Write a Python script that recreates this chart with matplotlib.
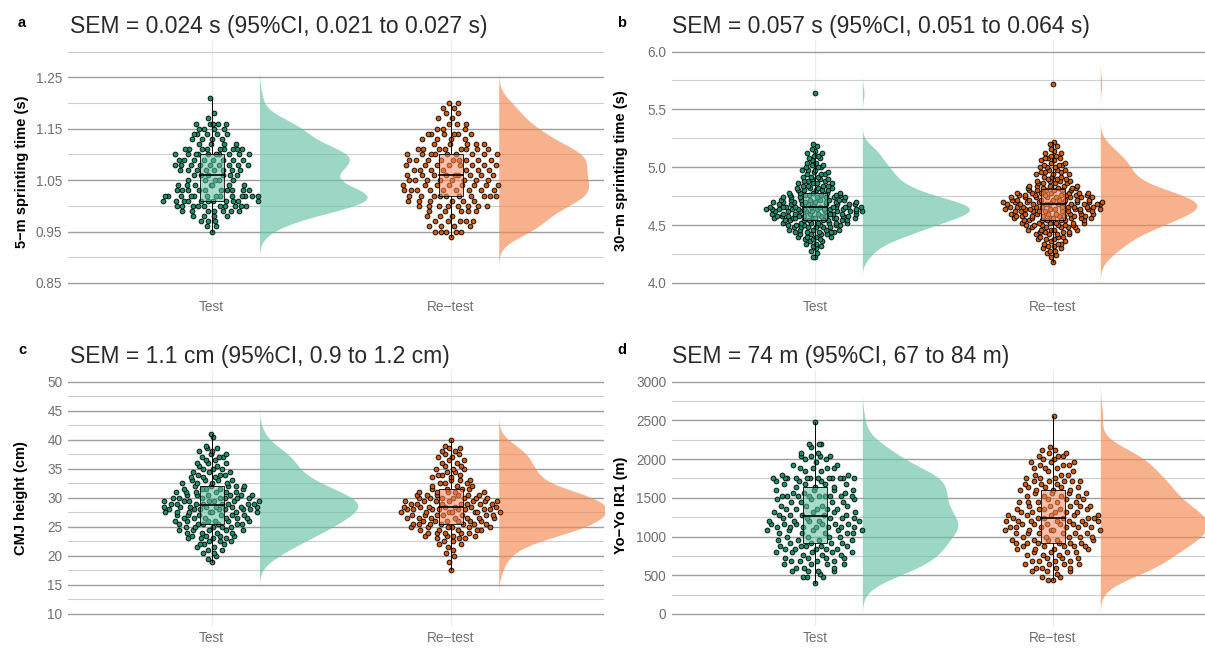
import matplotlib.pyplot as plt
import numpy as np
from matplotlib.patches import Rectangle

plt.rcParams['font.family'] = ['Liberation Sans', 'DejaVu Sans']

groups = ['Test', 'Re\u2212test']
violin_colors = ['#66c2a5', '#f4874f']
box_colors = ['#66c2a5', '#fc8d62']
point_colors = ['#1a8f6b', '#d05a05']

tags = ['a', 'b', 'c', 'd']
titles = ['SEM = 0.024 s (95%CI, 0.021 to 0.027 s)',
          'SEM = 0.057 s (95%CI, 0.051 to 0.064 s)',
          'SEM = 1.1 cm (95%CI, 0.9 to 1.2 cm)',
          'SEM = 74 m (95%CI, 67 to 84 m)']
ylabels = ['5\u2212m sprinting time (s)', '30\u2212m sprinting time (s)',
           'CMJ height (cm)', 'Yo\u2212Yo IR1 (m)']

# --- a: 5-m sprint (s), values read at 0.01 s resolution
sprint5_levels = [0.94, 0.95, 0.96, 0.97, 0.98, 0.99, 1.00, 1.01, 1.02, 1.03,
                  1.04, 1.05, 1.06, 1.07, 1.08, 1.09, 1.10, 1.11, 1.12, 1.13,
                  1.14, 1.15, 1.16, 1.17, 1.18, 1.19, 1.20, 1.21]
sprint5_test = [0, 1, 2, 3, 4, 7, 10, 11, 13, 10,
                7, 5, 6, 8, 9, 8, 10, 9, 4, 4,
                5, 4, 5, 1, 1, 0, 0, 1]
sprint5_retest = [1, 5, 4, 5, 3, 5, 8, 6, 10, 9,
                  8, 8, 9, 7, 8, 9, 9, 8, 5, 4,
                  6, 3, 3, 2, 2, 2, 2, 0]

# --- b: 30-m sprint (s)
sprint30_levels = [4.18, 4.20, 4.22, 4.24, 4.26, 4.28, 4.30, 4.32, 4.34, 4.36,
                   4.38, 4.40, 4.42, 4.44, 4.46, 4.48, 4.50, 4.52, 4.54, 4.56,
                   4.58, 4.60, 4.62, 4.64, 4.66, 4.68, 4.70, 4.72, 4.74, 4.76,
                   4.78, 4.80, 4.82, 4.84, 4.86, 4.88, 4.90, 4.92, 4.94, 4.96,
                   4.98, 5.00, 5.02, 5.04, 5.06, 5.08, 5.10, 5.12, 5.14, 5.16,
                   5.18, 5.20, 5.22, 5.64, 5.72]
sprint30_test = [0, 0, 2, 0, 1, 1, 1, 2, 2, 2,
                 3, 4, 4, 5, 5, 6, 6, 7, 8, 8,
                 9, 9, 10, 11, 11, 9, 8, 8, 7, 6,
                 5, 5, 4, 4, 4, 3, 3, 3, 3, 2,
                 3, 3, 2, 2, 1, 2, 2, 2, 1, 1,
                 1, 1, 0, 1, 0]
sprint30_retest = [1, 0, 1, 1, 1, 2, 2, 2, 3, 2,
                   3, 3, 4, 4, 5, 5, 6, 6, 7, 7,
                   8, 8, 9, 9, 10, 10, 9, 9, 8, 8,
                   7, 6, 5, 5, 4, 4, 3, 3, 3, 3,
                   3, 3, 3, 2, 2, 3, 2, 2, 1, 1,
                   1, 1, 1, 0, 1]

# --- c: CMJ height (cm)
cmj_levels = [17.5, 18.0, 18.5, 19.0, 19.5, 20.0, 20.5, 21.0, 21.5, 22.0,
              22.5, 23.0, 23.5, 24.0, 24.5, 25.0, 25.5, 26.0, 26.5, 27.0,
              27.5, 28.0, 28.5, 29.0, 29.5, 30.0, 30.5, 31.0, 31.5, 32.0,
              32.5, 33.0, 33.5, 34.0, 34.5, 35.0, 35.5, 36.0, 36.5, 37.0,
              37.5, 38.0, 38.5, 39.0, 39.5, 40.0, 40.5, 41.0]
cmj_test = [0, 0, 0, 1, 1, 1, 2, 2, 2, 3,
            3, 4, 4, 4, 5, 5, 6, 6, 6, 6,
            7, 7, 8, 8, 7, 7, 6, 6, 5, 5,
            4, 4, 3, 3, 3, 3, 2, 3, 2, 3,
            2, 2, 2, 1, 0, 0, 1, 1]
cmj_retest = [1, 0, 0, 1, 0, 1, 1, 1, 1, 2,
              2, 3, 4, 5, 5, 6, 7, 6, 7, 7,
              7, 8, 7, 7, 7, 7, 6, 5, 4, 3,
              3, 3, 2, 3, 2, 3, 2, 2, 2, 2,
              2, 2, 2, 1, 0, 1, 0, 0]

# --- d: Yo-Yo IR1 distance (m), 40 m steps
yoyo_levels = [400, 440, 480, 520, 560, 600, 640, 680, 720, 760,
               800, 840, 880, 920, 960, 1000, 1040, 1080, 1120, 1160,
               1200, 1240, 1280, 1320, 1360, 1400, 1440, 1480, 1520, 1560,
               1600, 1640, 1680, 1720, 1760, 1800, 1840, 1880, 1920, 1960,
               2000, 2040, 2080, 2120, 2160, 2200, 2240, 2280, 2320, 2360,
               2400, 2440, 2480, 2520, 2560]
yoyo_test = [1, 0, 3, 1, 4, 3, 4, 4, 4, 3,
             5, 5, 5, 4, 4, 4, 5, 5, 7, 6,
             5, 5, 5, 4, 5, 4, 4, 3, 9, 3,
             4, 3, 4, 3, 12, 2, 2, 4, 2, 1,
             2, 4, 2, 0, 1, 3, 0, 0, 0, 0,
             0, 0, 1, 0, 0]
yoyo_retest = [0, 2, 2, 1, 3, 4, 4, 4, 3, 3,
               4, 4, 5, 6, 5, 5, 6, 5, 6, 6,
               7, 6, 5, 5, 5, 5, 5, 3, 4, 4,
               4, 4, 3, 5, 3, 3, 2, 3, 3, 3,
               2, 3, 2, 2, 1, 0, 0, 0, 0, 0,
               0, 0, 0, 0, 1]

panel_levels = [sprint5_levels, sprint30_levels, cmj_levels, yoyo_levels]
panel_counts = [(sprint5_test, sprint5_retest), (sprint30_test, sprint30_retest),
                (cmj_test, cmj_retest), (yoyo_test, yoyo_retest)]
panel_limits = [(0.85, 1.30), (4.0, 6.0), (10, 50), (0, 3000)]
major_ticks = [[0.85, 0.95, 1.05, 1.15, 1.25],
               [4.0, 4.5, 5.0, 5.5, 6.0],
               [10, 15, 20, 25, 30, 35, 40, 45, 50],
               [0, 500, 1000, 1500, 2000, 2500, 3000]]
major_labels = [['0.85', '0.95', '1.05', '1.15', '1.25'],
                ['4.0', '4.5', '5.0', '5.5', '6.0'],
                ['10', '15', '20', '25', '30', '35', '40', '45', '50'],
                ['0', '500', '1000', '1500', '2000', '2500', '3000']]
minor_ticks = [[0.90, 1.00, 1.10, 1.20, 1.30],
               [4.25, 4.75, 5.25, 5.75],
               [12.5, 17.5, 22.5, 27.5, 32.5, 37.5, 42.5, 47.5],
               [250, 750, 1250, 1750, 2250, 2750]]


def bw_nrd0(x):
    sd = np.std(x, ddof=1)
    q75, q25 = np.percentile(x, [75, 25])
    lo = min(sd, (q75 - q25) / 1.34)
    if lo <= 0:
        lo = sd
    return 0.9 * lo * len(x) ** -0.2


def kde(x, grid, bw):
    z = (np.asarray(grid)[:, None] - x[None, :]) / bw
    return np.exp(-0.5 * z ** 2).sum(1) / (len(x) * bw * np.sqrt(2 * np.pi))


def vdc(n):
    out = []
    for k in range(1, n + 1):
        v, denom = 0.0, 1.0
        while k:
            denom *= 2
            k, r = divmod(k, 2)
            v += r / denom
        out.append(v)
    return np.array(out)


W, H = 1205, 648
fig = plt.figure(figsize=(W / 100, H / 100), dpi=100)

# pixel boxes: left, top, right, bottom
boxes = [(68, 40, 604, 294.5), (672, 40, 1205, 294.5),
         (68, 370, 604, 625.6), (672, 370, 1205, 625.6)]
tag_xy = [(18, 27), (617, 27), (18, 354), (617, 354)]
title_xy = [(70, 33), (672, 33), (70, 363), (672, 363)]
ylab_xy = [(22, 172), (621, 171), (21, 498), (621, 505)]

for i in range(4):
    l, t, r, b = boxes[i]
    ax = fig.add_axes([l / W, 1 - b / H, (r - l) / W, (b - t) / H])
    lo, hi = panel_limits[i]
    rng = hi - lo
    ax.set_ylim(lo - 0.05 * rng, hi + 0.05 * rng)
    ax.set_xlim(0.4, 2.64)

    datasets = [np.repeat(panel_levels[i], c).astype(float) for c in panel_counts[i]]

    # half violins, area-scaled across both groups
    dens = []
    for x in datasets:
        bw = bw_nrd0(x)
        grid = np.linspace(x.min() - 3 * bw, x.max() + 3 * bw, 512)
        dens.append((grid, kde(x, grid, bw)))
    dmax = max(d.max() for _, d in dens)
    for j, (grid, d) in enumerate(dens):
        pos = j + 1
        ax.fill_betweenx(grid, pos + 0.2, pos + 0.2 + 0.45 * d / dmax,
                         color=violin_colors[j], alpha=0.65, lw=0, zorder=2)

    for j, x in enumerate(datasets):
        pos = j + 1
        # quasirandom point layout
        xs = np.sort(x)
        bw = bw_nrd0(xs) * 0.5
        dd = kde(xs, xs, bw)
        offs = (2 * vdc(len(xs)) - 1) * 0.215 * dd / dd.max()
        ax.scatter(pos + offs, xs, s=12, c=point_colors[j], edgecolors='black',
                   linewidths=0.6, zorder=3)

        # boxplot
        q1, med, q3 = np.percentile(x, [25, 50, 75])
        iqr = q3 - q1
        wlo = x[x >= q1 - 1.5 * iqr].min()
        whi = x[x <= q3 + 1.5 * iqr].max()
        ax.plot([pos, pos], [q3, whi], color='black', lw=0.7, zorder=4)
        ax.plot([pos, pos], [wlo, q1], color='black', lw=0.7, zorder=4)
        ax.add_patch(Rectangle((pos - 0.05, q1), 0.1, iqr, facecolor=box_colors[j],
                               alpha=0.55, edgecolor='none', zorder=4))
        ax.add_patch(Rectangle((pos - 0.05, q1), 0.1, iqr, facecolor='none',
                               edgecolor='black', lw=0.6, zorder=4))
        ax.plot([pos - 0.05, pos + 0.05], [med, med], color='black', lw=1.2, zorder=4)

    ax.set_yticks(major_ticks[i], major_labels[i])
    ax.set_yticks(minor_ticks[i], minor=True)
    ax.set_xticks([1, 2], groups)
    ax.grid(axis='y', which='major', color='#9e9e9e', lw=1.0)
    ax.grid(axis='y', which='minor', color='#cfcfcf', lw=0.8)
    ax.grid(axis='x', which='major', color='#ebebeb', lw=0.8)
    ax.set_axisbelow(True)
    ax.tick_params(which='both', length=0, labelsize=9.8, labelcolor='#707070')
    ax.tick_params(axis='x', pad=4)
    ax.tick_params(axis='y', pad=4)
    for s in ax.spines.values():
        s.set_visible(False)

    fig.text(tag_xy[i][0] / W, 1 - tag_xy[i][1] / H, tags[i], fontsize=10.5,
             fontweight='bold', ha='left', va='baseline')
    fig.text(title_xy[i][0] / W, 1 - title_xy[i][1] / H, titles[i], fontsize=16.5,
             color='#2a2a2a', ha='left', va='baseline')
    fig.text(ylab_xy[i][0] / W, 1 - ylab_xy[i][1] / H, ylabels[i], fontsize=10.5,
             fontweight='bold', rotation=90, ha='center', va='center')

fig.savefig('out.png', dpi=100)
